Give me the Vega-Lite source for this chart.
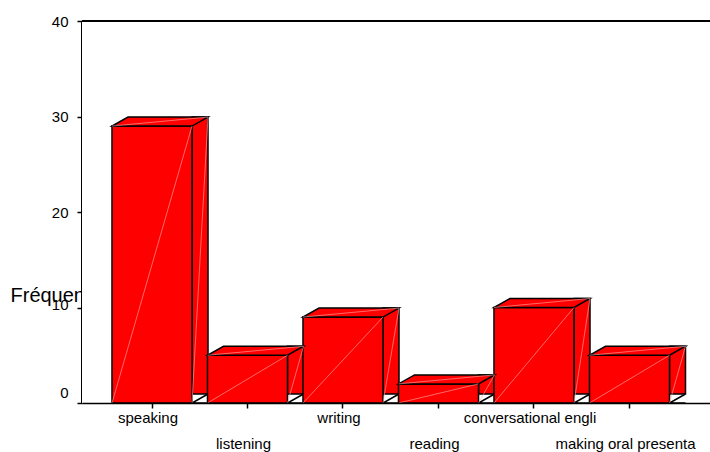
{
  "$schema": "https://vega.github.io/schema/vega-lite/v6.json",
  "width": 628,
  "height": 382,
  "autosize": {"type": "none"},
  "padding": {"left": 82, "top": 21, "right": 0, "bottom": 49},
  "background": "white",
  "config": {
    "view": {"stroke": null},
    "font": "Liberation Sans",
    "axis": {
      "domainColor": "black",
      "domainWidth": 1.5,
      "tickColor": "black",
      "tickWidth": 1.5,
      "tickSize": 5,
      "labelFont": "Liberation Sans",
      "labelFontSize": 15,
      "labelColor": "black",
      "titleFont": "Liberation Sans",
      "titleColor": "black"
    }
  },
  "data": {
    "values": [
      {"skill": "speaking", "freq": 29},
      {"skill": "listening", "freq": 5},
      {"skill": "writing", "freq": 9},
      {"skill": "reading", "freq": 2},
      {"skill": "conversational engli", "freq": 10},
      {"skill": "making oral presenta", "freq": 5}
    ]
  },
  "encoding": {
    "y": {
      "field": "freq",
      "type": "quantitative",
      "scale": {"domain": [0, 40], "nice": false},
      "axis": {
        "title": "Fréquence",
        "values": [0, 10, 20, 30, 40],
        "labelPadding": 9,
        "domainWidth": 3,
        "labelOffset": {"condition": [{"test": "datum.value === 0", "value": -11}, {"test": "datum.value === 10", "value": -3}], "value": 0},
        "grid": false,
        "titleAngle": 0,
        "titleAlign": "left",
        "titleBaseline": "alphabetic",
        "titleX": -72,
        "titleY": 280,
        "titleFontSize": 20,
        "titleFontWeight": "normal",
        "titleLimit": 0
      }
    }
  },
  "layer": [
    {
      "mark": {"type": "rect", "fill": "white"},
      "encoding": {"y": {"datum": 0, "type": "quantitative"}, "y2": {"datum": 40}}
    },
    {
      "mark": {"type": "rule", "color": "black", "strokeWidth": 1.5},
      "encoding": {"y": {"datum": 40, "type": "quantitative"}}
    },
    {
      "mark": {"type": "bar", "width": 16, "xOffset": 48, "yOffset": -9, "fill": "#ff0000", "stroke": "black", "strokeWidth": 1.5},
      "encoding": {
        "x": {
          "field": "skill",
          "type": "nominal",
          "sort": null,
          "scale": {"paddingInner": 0.162, "paddingOuter": 0.369, "align": 0.4255, "round": false},
          "axis": {
            "title": null,
            "zindex": 1,
            "labelAngle": 0,
            "labelOverlap": false,
            "labelBaseline": "alphabetic",
            "labelPadding": {"condition": {"test": "indexof(['listening','reading','making oral presenta'], datum.value) >= 0", "value": 40}, "value": 14},
            "labelOffset": -4,
            "labelLimit": 0
          }
        }
      }
    },
    {
      "mark": {"type": "point", "shape": "M56,0L40,0L56,-9", "size": 4, "filled": true, "fill": "white", "stroke": "black", "strokeWidth": 1.5, "opacity": 1},
      "encoding": {"x": {"field": "skill", "type": "nominal", "sort": null}, "y": {"datum": 0, "type": "quantitative"}}
    },
    {
      "mark": {"type": "bar", "fill": "#ff0000", "stroke": "black", "strokeWidth": 1.5},
      "encoding": {"x": {"field": "skill", "type": "nominal", "sort": null}}
    },
    {
      "mark": {"type": "point", "shape": "M-40,0L40,0L56,-9L-24,-9Z", "size": 4, "filled": true, "fill": "#ff0000", "stroke": "black", "strokeWidth": 1.5, "opacity": 1},
      "encoding": {"x": {"field": "skill", "type": "nominal", "sort": null}}
    },
    {
      "mark": {"type": "rule", "color": "#ffb0b0", "strokeWidth": 0.6, "xOffset": 40, "x2Offset": -40},
      "encoding": {"x": {"field": "skill", "type": "nominal", "sort": null}, "x2": {"field": "skill"}, "y2": {"datum": 0}}
    },
    {
      "mark": {"type": "rule", "color": "#ffb0b0", "strokeWidth": 0.6, "xOffset": 56, "yOffset": -9, "x2Offset": 40},
      "encoding": {"x": {"field": "skill", "type": "nominal", "sort": null}, "x2": {"field": "skill"}, "y2": {"datum": 0}}
    },
    {
      "mark": {"type": "rule", "color": "#ffb0b0", "strokeWidth": 0.6, "xOffset": 56, "yOffset": -9, "x2Offset": -40},
      "encoding": {"x": {"field": "skill", "type": "nominal", "sort": null}, "x2": {"field": "skill"}, "y2": {"field": "freq"}}
    }
  ]
}
